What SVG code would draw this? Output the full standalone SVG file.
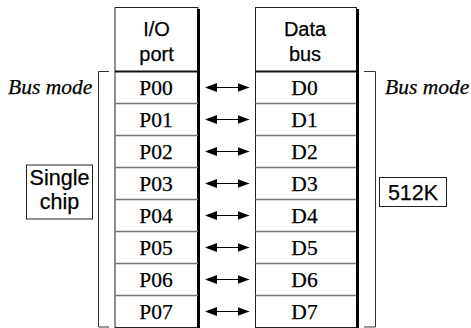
<svg xmlns="http://www.w3.org/2000/svg" width="471" height="328" viewBox="0 0 471 328">
  <style>
    .col { fill: #fff; stroke: #222; stroke-width: 1; }
    .edge { stroke: #000; stroke-width: 3; }
    .sep { stroke: #777; stroke-width: 1.5; }
    .hdr { stroke: #111; stroke-width: 2; }
    text { fill: #000; stroke: #000; stroke-width: 0.25; }
    .head { font-family: "Liberation Sans", Arial, sans-serif; font-size: 20px; text-anchor: middle; }
    .cell { font-family: "Liberation Serif", "Times New Roman", serif; font-size: 21.5px; text-anchor: middle; }
    .mode { font-family: "Liberation Serif", "Times New Roman", serif; font-style: italic; font-size: 21.5px; }
    .tag { font-family: "Liberation Sans", Arial, sans-serif; font-size: 21.5px; text-anchor: middle; }
    .box { fill: #fff; stroke: #222; stroke-width: 1; }
    .brk { fill: none; stroke: #333; stroke-width: 1; }
    .link { stroke: #000; stroke-width: 1.2; marker-start: url(#ah); marker-end: url(#ah); }
  </style>
  <defs>
    <marker id="ah" viewBox="0 0 12 9" refX="11" refY="4.5" markerWidth="12" markerHeight="9" markerUnits="userSpaceOnUse" orient="auto-start-reverse">
      <path d="M0,0 L12,4.5 L0,9 Z" fill="#000"/>
    </marker>
  </defs>

  <!-- I/O port column -->
  <g id="io-port">
    <rect class="col" x="115" y="7.5" width="83" height="320"/>
    <line class="edge" x1="198.5" y1="9" x2="198.5" y2="328"/>
    <line class="hdr" x1="115" y1="71.5" x2="198" y2="71.5"/>
    <g>
      <line class="sep" x1="115" y1="103.5" x2="198" y2="103.5"/>
      <line class="sep" x1="115" y1="135.5" x2="198" y2="135.5"/>
      <line class="sep" x1="115" y1="167.5" x2="198" y2="167.5"/>
      <line class="sep" x1="115" y1="199.5" x2="198" y2="199.5"/>
      <line class="sep" x1="115" y1="231.5" x2="198" y2="231.5"/>
      <line class="sep" x1="115" y1="263.5" x2="198" y2="263.5"/>
      <line class="sep" x1="115" y1="295.5" x2="198" y2="295.5"/>
    </g>
    <text class="head" x="156.5" y="35.5">I/O</text>
    <text class="head" x="156.5" y="61">port</text>
    <text class="cell" x="156" y="94.5">P00</text>
    <text class="cell" x="156" y="126.5">P01</text>
    <text class="cell" x="156" y="158.5">P02</text>
    <text class="cell" x="156" y="190.5">P03</text>
    <text class="cell" x="156" y="222.5">P04</text>
    <text class="cell" x="156" y="254.5">P05</text>
    <text class="cell" x="156" y="286.5">P06</text>
    <text class="cell" x="156" y="318.5">P07</text>
  </g>

  <!-- Data bus column -->
  <g id="data-bus">
    <rect class="col" x="255.5" y="7.5" width="101" height="320"/>
    <line class="edge" x1="357.5" y1="9" x2="357.5" y2="328"/>
    <line class="hdr" x1="255.5" y1="71.5" x2="356" y2="71.5"/>
    <g>
      <line class="sep" x1="255.5" y1="103.5" x2="356" y2="103.5"/>
      <line class="sep" x1="255.5" y1="135.5" x2="356" y2="135.5"/>
      <line class="sep" x1="255.5" y1="167.5" x2="356" y2="167.5"/>
      <line class="sep" x1="255.5" y1="199.5" x2="356" y2="199.5"/>
      <line class="sep" x1="255.5" y1="231.5" x2="356" y2="231.5"/>
      <line class="sep" x1="255.5" y1="263.5" x2="356" y2="263.5"/>
      <line class="sep" x1="255.5" y1="295.5" x2="356" y2="295.5"/>
    </g>
    <text class="head" x="305" y="35.5">Data</text>
    <text class="head" x="305" y="61">bus</text>
    <text class="cell" x="304.5" y="94.5">D0</text>
    <text class="cell" x="304.5" y="126.5">D1</text>
    <text class="cell" x="304.5" y="158.5">D2</text>
    <text class="cell" x="304.5" y="190.5">D3</text>
    <text class="cell" x="304.5" y="222.5">D4</text>
    <text class="cell" x="304.5" y="254.5">D5</text>
    <text class="cell" x="304.5" y="286.5">D6</text>
    <text class="cell" x="304.5" y="318.5">D7</text>
  </g>

  <!-- Mode brackets and labels -->
  <g id="left-mode">
    <path class="brk" d="M109,71.5 H98.5 V327 H109"/>
    <text class="mode" x="8" y="93.5">Bus mode</text>
    <rect class="box" x="26.5" y="165" width="66" height="54"/>
    <text class="tag" x="59.5" y="185">Single</text>
    <text class="tag" x="59.5" y="209">chip</text>
  </g>
  <g id="right-mode">
    <path class="brk" d="M364,71.5 H375.5 V327 H364"/>
    <text class="mode" x="385" y="93.5">Bus mode</text>
    <rect class="box" x="379.5" y="177.5" width="67" height="29"/>
    <text class="tag" x="413" y="199.5">512K</text>
  </g>

  <!-- Bidirectional links between port bits and data bus bits -->
  <g id="connectors">
    <line class="link" x1="206" y1="87.5" x2="248.5" y2="87.5"/>
    <line class="link" x1="206" y1="119.5" x2="248.5" y2="119.5"/>
    <line class="link" x1="206" y1="151.5" x2="248.5" y2="151.5"/>
    <line class="link" x1="206" y1="183.5" x2="248.5" y2="183.5"/>
    <line class="link" x1="206" y1="215.5" x2="248.5" y2="215.5"/>
    <line class="link" x1="206" y1="247.5" x2="248.5" y2="247.5"/>
    <line class="link" x1="206" y1="279.5" x2="248.5" y2="279.5"/>
    <line class="link" x1="206" y1="311.5" x2="248.5" y2="311.5"/>
  </g>
</svg>
